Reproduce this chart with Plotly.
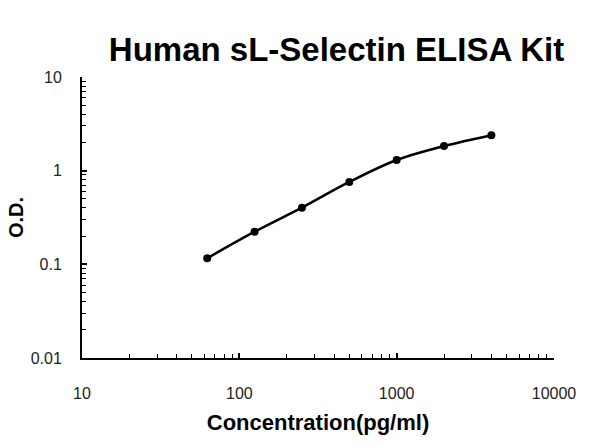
import plotly.graph_objects as go

concentration = [62.5, 125, 250, 500, 1000, 2000, 4000]
od_values = [0.116, 0.223, 0.403, 0.757, 1.30, 1.83, 2.39]

x_tick_vals = [10, 100, 1000, 10000]
x_tick_text = ["10", "100", "1000", "10000"]
y_tick_vals = [0.01, 0.1, 1, 10]
y_tick_text = ["0.01", "0.1", "1", "10"]

fig = go.Figure()
fig.add_trace(go.Scatter(
    x=concentration, y=od_values,
    mode="lines+markers",
    line=dict(color="black", width=2.5, shape="spline"),
    marker=dict(color="black", size=8),
    showlegend=False,
))

font_main = "Liberation Sans, Arial, sans-serif"

fig.update_layout(
    width=600, height=447,
    margin=dict(l=82, r=46, t=77, b=89),
    paper_bgcolor="white", plot_bgcolor="white",
    title=dict(text="<b>Human sL-Selectin ELISA Kit</b>",
               font=dict(family=font_main, size=33, color="black"),
               x=336.5/600, xanchor="center", xref="container",
               y=1-49/447, yanchor="middle", yref="container"),
    font=dict(family=font_main, color="black"),
)
fig.update_xaxes(
    type="log", range=[1, 4], automargin=False,
    tickvals=x_tick_vals, ticktext=x_tick_text,
    ticks="inside", ticklen=5, tickwidth=1.5, tickcolor="black",
    minor=dict(ticks="inside", ticklen=4, tickwidth=1.2, tickcolor="black", dtick="D1", showgrid=False),
    showline=True, linecolor="black", linewidth=2,
    showgrid=False, zeroline=False,
    tickfont=dict(size=16, color="#222"),
    ticklabelstandoff=20,
    title=dict(text="<b>Concentration(pg/ml)</b>", font=dict(size=22, color="black"), standoff=13),
)
fig.update_yaxes(
    type="log", range=[-2, 1], automargin=False,
    tickvals=y_tick_vals, ticktext=y_tick_text,
    ticks="inside", ticklen=5, tickwidth=1.5, tickcolor="black",
    minor=dict(ticks="inside", ticklen=4, tickwidth=1.2, tickcolor="black", dtick="D1", showgrid=False),
    showline=True, linecolor="black", linewidth=2,
    showgrid=False, zeroline=False,
    tickfont=dict(size=16, color="#222"),
    ticklabelstandoff=15,
    title=dict(text="<b>O.D.</b>", font=dict(size=20, color="black"), standoff=2),
)

fig.write_html("out.html", config={"displayModeBar": False},
               post_script="document.body.style.margin='0';")
